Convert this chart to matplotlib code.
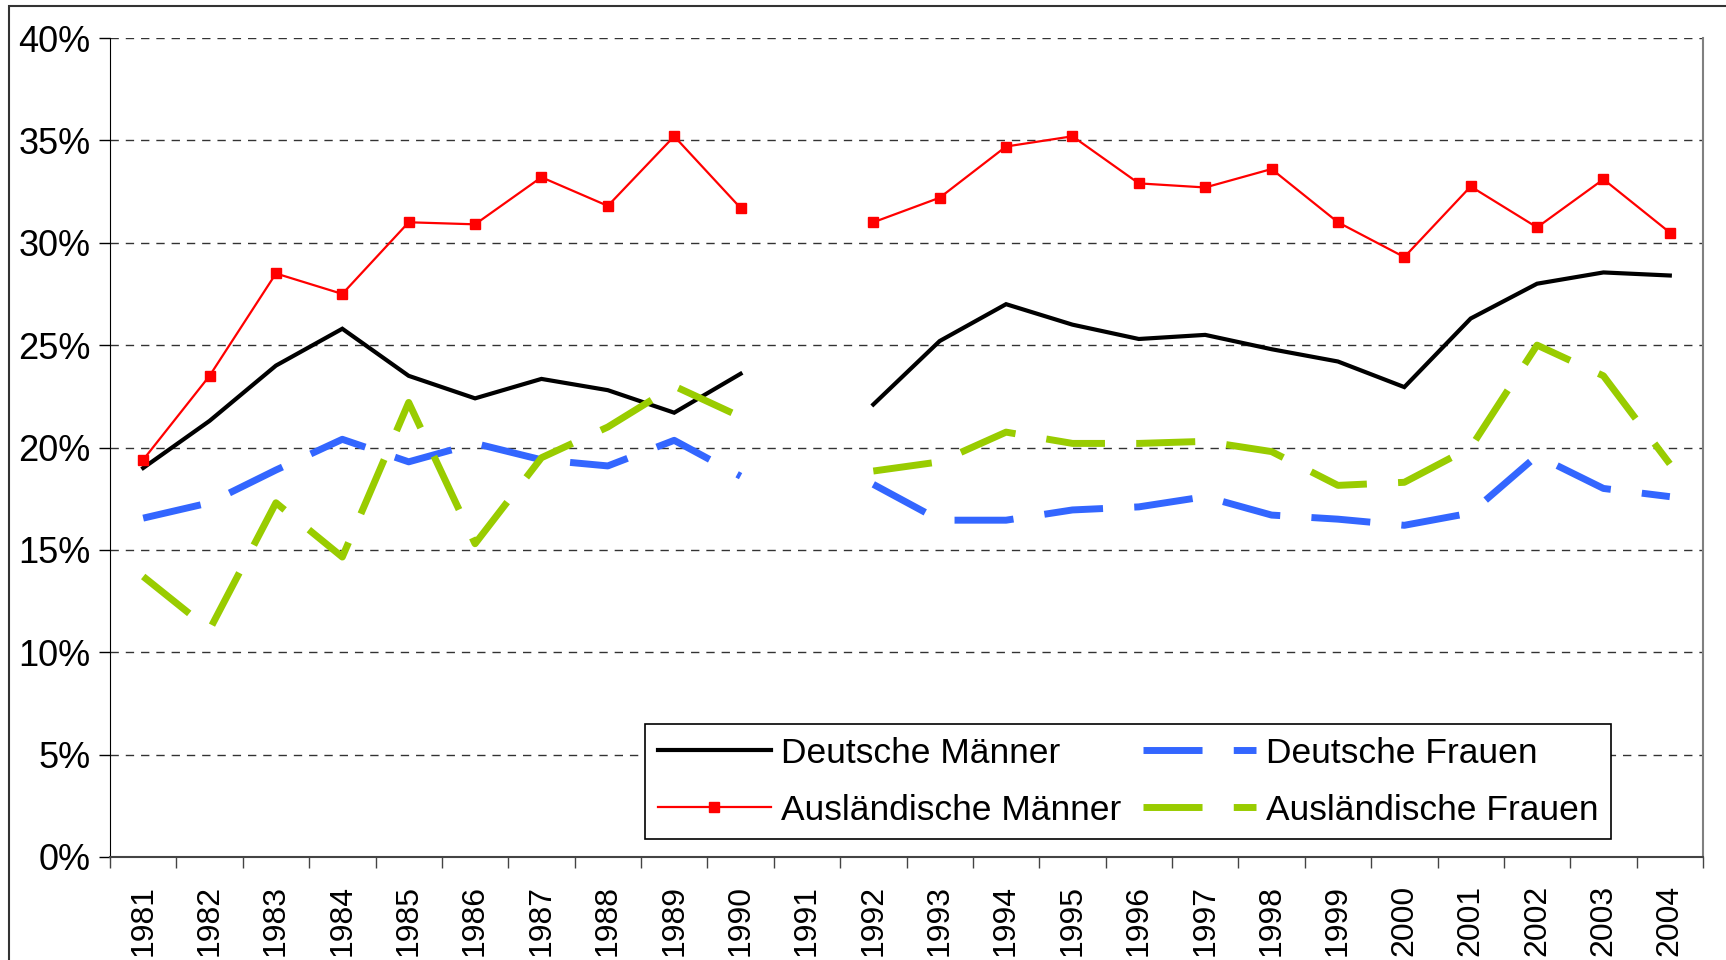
import numpy as np
import matplotlib.pyplot as plt
from matplotlib.patches import Rectangle

plt.rcParams['font.family'] = ['Liberation Sans', 'DejaVu Sans']

years = [str(y) for y in range(1981, 2005)]
nan = np.nan

# shares in percent, 1991 missing
deutsche_maenner = [19.0, 21.3, 24.0, 25.8, 23.5, 22.4, 23.35, 22.8, 21.7, 23.6, nan,
                    22.1, 25.2, 27.0, 26.0, 25.3, 25.5, 24.8, 24.2, 22.95, 26.3, 28.0, 28.55, 28.4]
auslaendische_maenner = [19.4, 23.5, 28.5, 27.5, 31.0, 30.9, 33.2, 31.8, 35.2, 31.7, nan,
                         31.0, 32.2, 34.7, 35.2, 32.9, 32.7, 33.6, 31.0, 29.3, 32.75, 30.75, 33.1, 30.5]
deutsche_frauen = [16.55, 17.3, 18.9, 20.4, 19.3, 20.2, 19.4, 19.1, 20.35, 18.6, nan,
                   18.2, 16.45, 16.45, 16.95, 17.1, 17.6, 16.7, 16.5, 16.2, 16.8, 19.6, 18.0, 17.6]
auslaendische_frauen = [13.7, 11.1, 17.3, 14.65, 22.2, 15.3, 19.5, 21.0, 23.0, 21.5, nan,
                        18.85, 19.3, 20.75, 20.2, 20.2, 20.3, 19.8, 18.15, 18.3, 20.0, 25.0, 23.5, 19.2]

x = np.arange(len(years))

fig = plt.figure(figsize=(17.26, 9.6), dpi=100)
ax = fig.add_axes([110 / 1726, 1 - 857 / 960, 1593 / 1726, 819 / 960])

# grid first so the lines sit above it
for v in range(5, 45, 5):
    ax.axhline(v, color='#333333', lw=1.0, ls=(0, (6, 5)), zorder=1)

ax.plot(x, deutsche_maenner, color='black', lw=3.0, solid_joinstyle='miter',
        label='Deutsche Männer', zorder=3)
ax.plot(x, auslaendische_maenner, color='#FF0000', lw=1.6, marker='s', ms=7,
        label='Ausländische Männer', zorder=4)
ax.plot(x, deutsche_frauen, color='#3366FF', lw=5.0, ls=(0, (8.5, 4.5)),
        label='Deutsche Frauen', zorder=3)
ax.plot(x, auslaendische_frauen, color='#99CC00', lw=5.0, ls=(0, (8.5, 4.5)),
        label='Ausländische Frauen', zorder=3)

ax.set_xlim(-0.5, len(years) - 0.5)
ax.set_ylim(0, 40)

ax.set_yticks(range(0, 45, 5))
ax.set_yticklabels([f'{v}%' for v in range(0, 45, 5)], fontsize=26)
ax.tick_params(axis='y', direction='out', length=8, width=1, pad=6)

ax.set_xticks(np.arange(-0.5, len(years), 1.0))
ax.set_xticklabels([])
ax.tick_params(axis='x', which='major', direction='out', length=8, width=1, color='#444444')
ax.set_xticks(x, minor=True)
ax.set_xticklabels(years, minor=True, rotation=90, fontsize=23)
ax.tick_params(axis='x', which='minor', length=0, pad=20)

ax.spines['top'].set_visible(False)
ax.spines['left'].set_color('black')
ax.spines['right'].set_color('#808080')
ax.spines['right'].set_linewidth(1.5)
ax.spines['bottom'].set_color('#444444')
ax.spines['bottom'].set_linewidth(1.5)

h, l = ax.get_legend_handles_labels()
leg = ax.legend(h, l, ncol=2,
                loc='lower left', bbox_to_anchor=(0.336, 0.022), fontsize=25.5,
                frameon=True, fancybox=False, framealpha=1, edgecolor='black',
                handlelength=3.2, handletextpad=0.28, columnspacing=0.62,
                labelspacing=0.68, borderpad=0.35, borderaxespad=0)
leg.get_frame().set_linewidth(1.2)
leg.set_zorder(5)

# outer chart frame
fig.patches.append(Rectangle((9 / 1726, -0.1), 1.2, 1 - 6 / 960 + 0.1,
                             transform=fig.transFigure, fill=False,
                             edgecolor='#333333', lw=1.5))

fig.savefig('out.png', dpi=100)
plt.close(fig)
